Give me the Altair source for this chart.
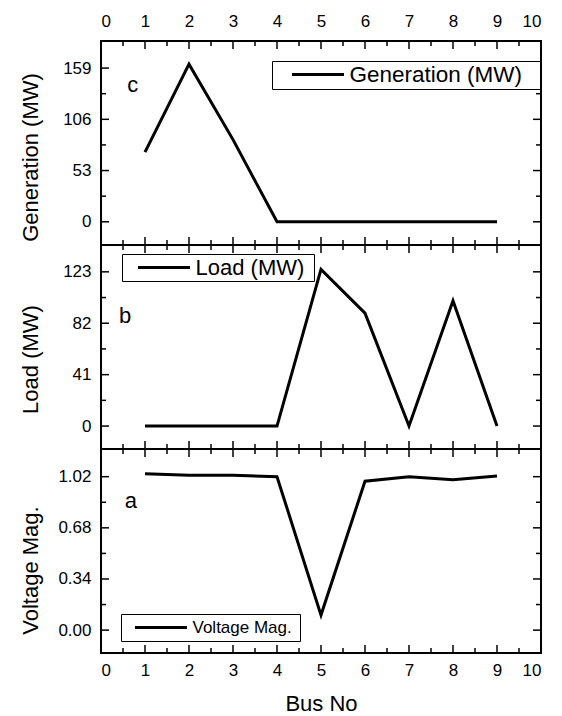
import altair as alt
import pandas as pd

# ---------------- data ----------------
bus = [1, 2, 3, 4, 5, 6, 7, 8, 9]
generation = [72, 163, 85, 0, 0, 0, 0, 0, 0]
load = [0, 0, 0, 0, 125, 90, 0, 100, 0]
voltage = [1.04, 1.03, 1.03, 1.02, 0.10, 0.99, 1.02, 1.00, 1.025]

x_ticks = [0, 1, 2, 3, 4, 5, 6, 7, 8, 9, 10]
x_minor = [0.5, 1.5, 2.5, 3.5, 4.5, 5.5, 6.5, 7.5, 8.5, 9.5]

gen_ticks = [0, 53, 106, 159]
gen_minor = [26.5, 79.5, 132.5]
load_ticks = [0, 41, 82, 123]
load_minor = [20.5, 61.5, 102.5]
volt_ticks = [0.0, 0.34, 0.68, 1.02]
volt_minor = [0.17, 0.51, 0.85]

gen_domain = [-24, 187]
load_domain = [-18.3, 144.4]
volt_domain = [-0.152, 1.204]

series_names = ["Generation (MW)", "Load (MW)", "Voltage Mag."]
axis_titles = ["Generation (MW)", "Load (MW)", "Voltage Mag."]
panel_letters = ["c", "b", "a"]
letter_x = [0.72, 0.55, 0.68]
letter_y = [134, 82, 0.81]

FONT = "Liberation Sans"
W, H = 440, 204
MAJ, MIN = 8, 5
TITLE_Y = [116, 114, 121]


def tick_rules(xs, ys, xaxis, yaxis, ymaj, ymin):
    layers = []
    rule = dict(color="black", strokeWidth=1.5)
    for vals, L in ((x_ticks, MAJ), (x_minor, MIN)):
        d = pd.DataFrame({"bus": vals})
        base = alt.Chart(d).mark_rule(**rule)
        layers.append(base.encode(x=alt.X("bus:Q", scale=xs, axis=xaxis),
                                  y=alt.value(0), y2=alt.value(L)))
        layers.append(base.encode(x=alt.X("bus:Q", scale=xs, axis=xaxis),
                                  y=alt.value(H), y2=alt.value(H - L)))
    for vals, L in ((ymaj, MAJ), (ymin, MIN)):
        d = pd.DataFrame({"value": vals})
        base = alt.Chart(d).mark_rule(**rule)
        layers.append(base.encode(y=alt.Y("value:Q", scale=ys, axis=yaxis),
                                  x=alt.value(0), x2=alt.value(L)))
        layers.append(base.encode(y=alt.Y("value:Q", scale=ys, axis=yaxis),
                                  x=alt.value(W), x2=alt.value(W - L)))
    return layers


def panel(i, values, yticks, yminor, ydomain, fmt, xaxis, leg):
    xs = alt.Scale(domain=[0, 10], nice=False, zero=False)
    ys = alt.Scale(domain=ydomain, nice=False, zero=False)
    df = pd.DataFrame({"bus": bus, "value": values, "series": series_names[i]})
    yaxis = alt.Axis(values=yticks, format=fmt, title=axis_titles[i],
                     tickSize=0, domain=False, grid=False, labelPadding=10,
                     minExtent=50, maxExtent=50, titlePadding=9,
                     titleY=TITLE_Y[i],
                     labelFontSize=17, titleFontSize=22, labelFont=FONT,
                     titleFont=FONT, titleFontWeight="normal",
                     labelColor="black", titleColor="black")
    line = alt.Chart(df).mark_line(strokeWidth=3).encode(
        x=alt.X("bus:Q", scale=xs, axis=xaxis),
        y=alt.Y("value:Q", scale=ys, axis=yaxis),
        color=alt.Color("series:N", scale=alt.Scale(range=["black"]),
                        legend=alt.Legend(**leg)),
    )
    ld = pd.DataFrame({"bus": [letter_x[i]], "value": [letter_y[i]],
                       "t": [panel_letters[i]]})
    letter = alt.Chart(ld).mark_text(fontSize=22, font=FONT, color="black",
                                     align="center", baseline="alphabetic").encode(
        x=alt.X("bus:Q", scale=xs, axis=xaxis),
        y=alt.Y("value:Q", scale=ys, axis=yaxis),
        text="t:N",
    )
    return alt.layer(line, letter,
                     *tick_rules(xs, ys, xaxis, yaxis, yticks, yminor)).properties(
        width=W, height=H)


def leg_cfg(x, y, fs, soff, right_gap):
    # the blank title on the right only widens the legend frame on that side
    return dict(orient="none", legendX=x, legendY=y,
                title="\u00a0", titleOrient="right", titlePadding=right_gap,
                titleFontSize=1, titleColor="white",
                symbolType="stroke", symbolSize=2704, symbolStrokeWidth=3,
                symbolStrokeColor="black", labelFontSize=fs, labelFont=FONT,
                labelColor="black", strokeColor="black", fillColor="white",
                padding=2.5, clipHeight=22, symbolOffset=soff, labelOffset=4,
                labelLimit=500)


x_top = alt.Axis(orient="top", values=x_ticks, tickSize=0, domain=False,
                 grid=False, labelPadding=11, labelFontSize=17, labelFont=FONT,
                 labelColor="black", title=None, format="d")
x_bot = alt.Axis(orient="bottom", values=x_ticks, tickSize=0, domain=False,
                 grid=False, labelPadding=9, labelFontSize=17, labelFont=FONT,
                 labelColor="black", title="Bus No", titleFontSize=22,
                 titleFont=FONT, titleFontWeight="normal", titleColor="black",
                 titlePadding=15, format="d")

top = panel(0, generation, gen_ticks, gen_minor, gen_domain, "d", x_top,
            leg_cfg(171, 20, 22.5, 16, 15))
mid = panel(1, load, load_ticks, load_minor, load_domain, "d", None,
            leg_cfg(21, 9, 22, 12, 7))
bot = panel(2, voltage, volt_ticks, volt_minor, volt_domain, ".2f", x_bot,
            leg_cfg(20, 165, 17, 10, 6))

chart = alt.vconcat(top, mid, bot, spacing=0, bounds="flush").resolve_scale(
    color="independent", x="independent", y="independent"
).resolve_legend(color="independent").properties(
    padding={"left": 18, "top": 11, "right": 5, "bottom": 2}
).configure_view(stroke="black", strokeWidth=2)

chart.save("out.html", embed_options={"renderer": "svg", "actions": False})
